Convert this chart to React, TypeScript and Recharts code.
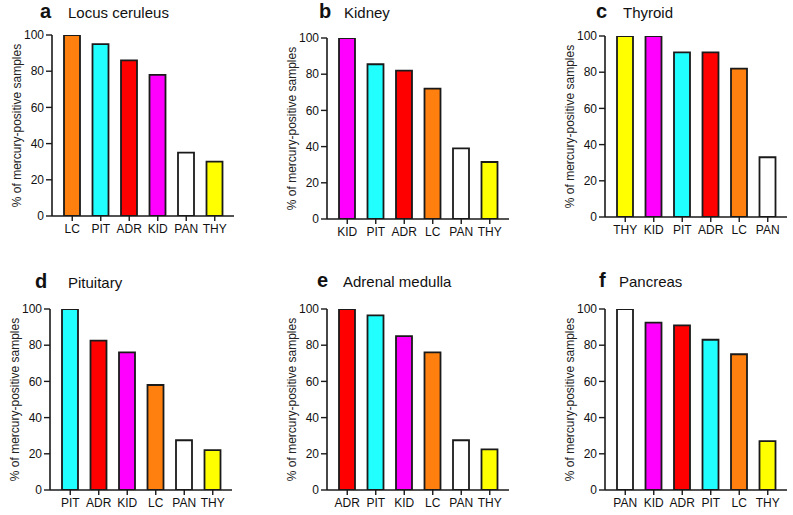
import { BarChart, Bar, XAxis, YAxis, Cell } from 'recharts'

const FONT = '"Liberation Sans", Arial, Helvetica, sans-serif'

// fill per organ, same in every panel
const ORGAN_COLORS: Record<string, string> = {
  LC: '#FF800E',
  PIT: '#22FFFF',
  ADR: '#FF0000',
  KID: '#FF00FF',
  PAN: '#FFFFFF',
  THY: '#FFFF00',
}

const yTicks = [0, 20, 40, 60, 80, 100]

const lcCats = ['LC', 'PIT', 'ADR', 'KID', 'PAN', 'THY']
const lcVals = [100, 95, 86, 78, 35, 30]

const kidCats = ['KID', 'PIT', 'ADR', 'LC', 'PAN', 'THY']
const kidVals = [100, 85.5, 82, 72, 39, 31.5]

const thyCats = ['THY', 'KID', 'PIT', 'ADR', 'LC', 'PAN']
const thyVals = [100, 100, 91, 91, 82, 33]

const pitCats = ['PIT', 'ADR', 'KID', 'LC', 'PAN', 'THY']
const pitVals = [100, 82.5, 76, 58, 27.5, 22]

const adrCats = ['ADR', 'PIT', 'KID', 'LC', 'PAN', 'THY']
const adrVals = [100, 96.5, 85, 76, 27.5, 22.5]

const panCats = ['PAN', 'KID', 'ADR', 'PIT', 'LC', 'THY']
const panVals = [100, 92.5, 91, 83, 75, 27]

const Y_LABEL = '% of mercury-positive samples'

// plot geometry
const AXIS_W = 52
const PLOT_W = 182
const PLOT_H = 181
const TOP_M = 10
const X_AXIS_H = 35

interface Panel {
  letter: string
  title: string
  cats: string[]
  vals: number[]
  axisX: number      // x of the y-axis line on the page
  plotTop: number    // y of the 100 tick
  letterX: number
  titleX: number
  baseline: number
}

const panels: Panel[] = [
  { letter: 'a', title: 'Locus ceruleus', cats: lcCats, vals: lcVals, axisX: 51.5, plotTop: 35, letterX: 40, titleX: 68, baseline: 18 },
  { letter: 'b', title: 'Kidney', cats: kidCats, vals: kidVals, axisX: 327, plotTop: 37.5, letterX: 319, titleX: 344, baseline: 18 },
  { letter: 'c', title: 'Thyroid', cats: thyCats, vals: thyVals, axisX: 605, plotTop: 36, letterX: 596, titleX: 623, baseline: 18 },
  { letter: 'd', title: 'Pituitary', cats: pitCats, vals: pitVals, axisX: 50, plotTop: 308.7, letterX: 35, titleX: 68, baseline: 288 },
  { letter: 'e', title: 'Adrenal medulla', cats: adrCats, vals: adrVals, axisX: 327, plotTop: 309, letterX: 317, titleX: 343, baseline: 287 },
  { letter: 'f', title: 'Pancreas', cats: panCats, vals: panVals, axisX: 605, plotTop: 309, letterX: 599, titleX: 619, baseline: 287 },
]

function YLabel(props: any) {
  const vb = props.viewBox || {}
  const cx = (vb.x ?? 0) + 17
  const cy = (vb.y ?? 0) + (vb.height ?? 0) / 2
  return (
    <text x={cx} y={cy} transform={`rotate(-90 ${cx} ${cy})`} textAnchor="middle" dominantBaseline="central"
      fontSize={12} fill="#222" fontFamily={FONT}>
      {Y_LABEL}
    </text>
  )
}

function PanelChart({ p }: { p: Panel }) {
  const data = p.cats.map((c, i) => ({ organ: c, value: p.vals[i] }))
  return (
    <div style={{ position: 'absolute', left: p.axisX - AXIS_W, top: p.plotTop - TOP_M }}>
      <BarChart width={AXIS_W + PLOT_W + 10} height={TOP_M + PLOT_H + X_AXIS_H} data={data}
        margin={{ top: TOP_M, right: 10, left: 0, bottom: 0 }}>
        <XAxis dataKey="organ" height={X_AXIS_H} padding={{ left: 6, right: 5 }}
          axisLine={{ stroke: '#1a1a1a', strokeWidth: 1.6 }} tickLine={{ stroke: '#1a1a1a', strokeWidth: 1.4 }}
          tickSize={5} tickMargin={3} interval={0}
          tick={{ fontSize: 12, fill: '#111', fontFamily: FONT }} />
        <YAxis type="number" domain={[0, 100]} ticks={yTicks} width={AXIS_W} allowDataOverflow
          axisLine={{ stroke: '#1a1a1a', strokeWidth: 1.6 }} tickLine={{ stroke: '#1a1a1a', strokeWidth: 1.4 }}
          tickSize={6} tickMargin={2}
          tick={{ fontSize: 12, fill: '#111', fontFamily: FONT }}
          label={{ content: (lp: any) => <YLabel {...lp} /> }} />
        <Bar dataKey="value" barSize={16} stroke="#1a1a1a" strokeWidth={1.8} isAnimationActive={false}>
          {data.map((d) => <Cell key={d.organ} fill={ORGAN_COLORS[d.organ]} />)}
        </Bar>
      </BarChart>
    </div>
  )
}

export default function App() {
  return (
    <div style={{ position: 'fixed', left: 0, top: 0, width: 793, height: 515, background: '#fff', overflow: 'hidden' }}>
      {panels.map((p) => <PanelChart key={p.letter} p={p} />)}
      <svg width={793} height={515} style={{ position: 'absolute', left: 0, top: 0, pointerEvents: 'none' }}>
        {panels.map((p) => (
          <g key={p.letter} fontFamily={FONT} fill="#111">
            <text x={p.letterX} y={p.baseline} fontSize={20} fontWeight="bold">{p.letter}</text>
            <text x={p.titleX} y={p.baseline} fontSize={15}>{p.title}</text>
          </g>
        ))}
      </svg>
    </div>
  )
}
